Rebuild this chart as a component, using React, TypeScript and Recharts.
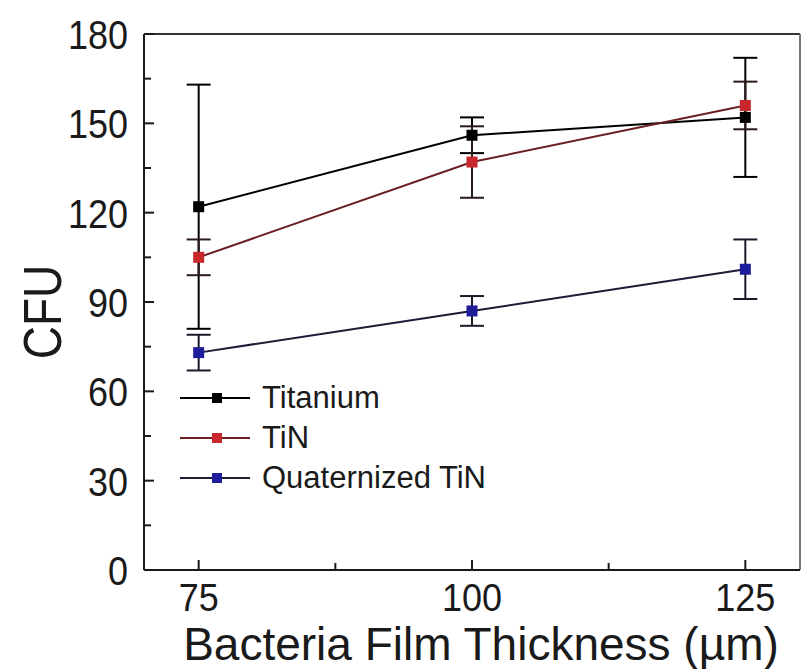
import React from "react"
import { LineChart, Line, XAxis, YAxis, ErrorBar, ReferenceLine, Legend } from "recharts"

// values
const thickness = [75, 100, 125]
const titanium = [122, 146, 152]
const titaniumErr = [41, 6, 20]
const tin = [105, 137, 156]
const tinErr = [6, 12, 8]
const quatTin = [73, 87, 101]
const quatTinErr = [6, 5, 10]

const xTicks = [75, 87.5, 100, 112.5, 125]
const xLabels = [75, 100, 125]
const yTicks = [0, 15, 30, 45, 60, 75, 90, 105, 120, 135, 150, 165, 180]
const yLabels = [0, 30, 60, 90, 120, 150, 180]

const FONT = "'Liberation Sans', Arial, sans-serif"
const INK = "#1a1a1a"
// the figure's lettering is a little taller than Arial
const STRETCH = 1.15

const SERIES = [
  { key: "titanium", errKey: "titaniumErr", name: "Titanium", fill: "#000000", line: "#000000", err: "#000000" },
  { key: "tin", errKey: "tinErr", name: "TiN", fill: "#c8282c", line: "#6a2020", err: "#2a1a1a" },
  { key: "quat", errKey: "quatErr", name: "Quaternized TiN", fill: "#1e1e9c", line: "#1c1c38", err: "#1a1a2a" },
]

const data = thickness.map((t, i) => ({
  thickness: t,
  titanium: titanium[i],
  titaniumErr: titaniumErr[i],
  tin: tin[i],
  tinErr: tinErr[i],
  quat: quatTin[i],
  quatErr: quatTinErr[i],
}))

const squareDot = (color: string) => (props: any) => {
  const { cx, cy, index } = props
  if (cx == null || cy == null) return <g key={index} />
  return <rect key={index} x={cx - 5.5} y={cy - 5.5} width={11} height={11} fill={color} />
}

const YTick = ({ x, y, payload }: any) => {
  const major = yLabels.includes(payload.value)
  return (
    <g>
      <line x1={x} x2={x + (major ? 10 : 7)} y1={y} y2={y} stroke={INK} strokeWidth={2} />
      {major && (
        <text
          transform={`translate(${x - 16},${y}) scale(1,${STRETCH})`}
          dy="0.36em"
          textAnchor="end"
          fontSize={36}
          fontFamily={FONT}
          fill={INK}
        >
          {payload.value}
        </text>
      )}
    </g>
  )
}

const XTick = ({ x, y, payload }: any) => {
  const major = xLabels.includes(payload.value)
  return (
    <g>
      <line x1={x} x2={x} y1={y} y2={y - (major ? 10 : 7)} stroke={INK} strokeWidth={2} />
      {major && (
        <text
          transform={`translate(${x},${y + 27}) scale(1,1.1)`}
          dy="0.36em"
          textAnchor="middle"
          fontSize={36}
          fontFamily={FONT}
          fill={INK}
        >
          {payload.value}
        </text>
      )}
    </g>
  )
}

const XTitle = () => (
  <text x={481} y={660} textAnchor="middle" fontSize={46} fontFamily={FONT} fill={INK}>
    Bacteria Film Thickness (µm)
  </text>
)

const YTitle = () => (
  <text
    transform={`translate(42,312) rotate(-90) scale(1,${STRETCH})`}
    dy="0.36em"
    textAnchor="middle"
    fontSize={46}
    fontFamily={FONT}
    fill={INK}
  >
    CFU
  </text>
)

const LegendBox = () => (
  <div style={{ fontFamily: FONT, color: INK }}>
    {SERIES.map((s) => (
      <div key={s.key} style={{ display: "flex", alignItems: "center", height: 40 }}>
        <svg width={72} height={20}>
          <line x1={0} x2={70} y1={10} y2={10} stroke={s.line} strokeWidth={2} />
          <rect x={32} y={5} width={10} height={10} fill={s.fill} />
        </svg>
        <span style={{ marginLeft: 10, fontSize: 31, lineHeight: "40px" }}>{s.name}</span>
      </div>
    ))}
  </div>
)

export default function App() {
  return (
    <div style={{ position: "absolute", left: 0, top: 0, width: 801, height: 669, background: "#fff" }}>
      <LineChart width={801} height={669} data={data} margin={{ top: 34, right: 1, left: 0, bottom: 0 }}>
        <XAxis
          dataKey="thickness"
          type="number"
          domain={[70, 130]}
          ticks={xTicks}
          interval={0}
          height={99}
          tickSize={0}
          tickMargin={0}
          tick={<XTick />}
          axisLine={{ stroke: INK, strokeWidth: 2 }}
          label={<XTitle />}
        />
        <YAxis
          type="number"
          domain={[0, 180]}
          ticks={yTicks}
          interval={0}
          width={144}
          tickSize={0}
          tickMargin={0}
          tick={<YTick />}
          axisLine={{ stroke: INK, strokeWidth: 2 }}
          label={<YTitle />}
        />
        <ReferenceLine y={180} stroke="#333" strokeWidth={2} />
        <ReferenceLine x={130} stroke="#777" strokeWidth={2} />
        <Legend
          content={<LegendBox />}
          layout="horizontal"
          verticalAlign="middle"
          wrapperStyle={{ left: 180, top: 378, width: 380 }}
        />
        {SERIES.map((s) => (
          <Line
            key={s.key}
            dataKey={s.key}
            name={s.name}
            type="linear"
            stroke={s.line}
            strokeWidth={2}
            dot={squareDot(s.fill)}
            activeDot={false}
            isAnimationActive={false}
          >
            <ErrorBar dataKey={s.errKey} width={12} strokeWidth={2} stroke={s.err} direction="y" isAnimationActive={false} />
          </Line>
        ))}
      </LineChart>
    </div>
  )
}
